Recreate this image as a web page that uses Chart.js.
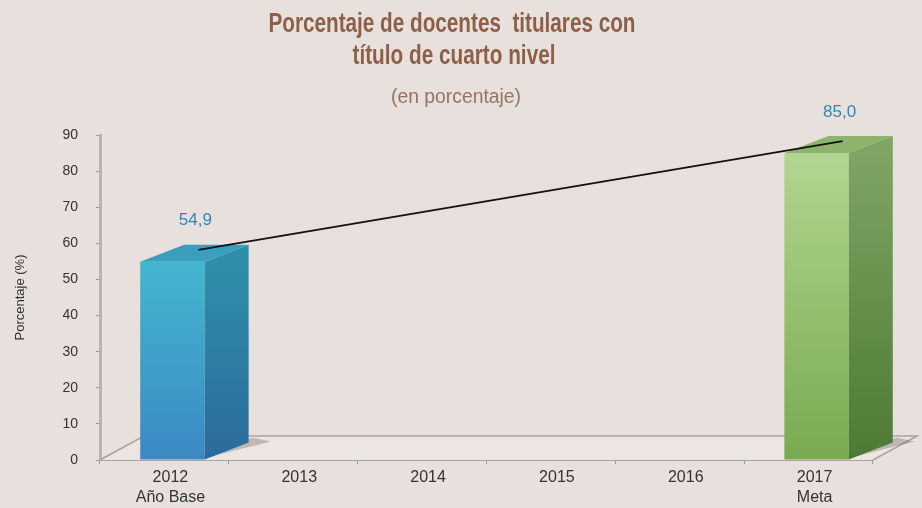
<!DOCTYPE html>
<html>
<head>
<meta charset="utf-8">
<script src="https://cdn.jsdelivr.net/npm/chart.js@4.4.1/dist/chart.umd.min.js"></script>
<style>
  html, body { margin: 0; padding: 0; background: #e7e0dc; }
  canvas { display: block; }
</style>
</head>
<body>
<canvas id="chart" width="922" height="508"></canvas>
<script>
const years = ['2012', '2013', '2014', '2015', '2016', '2017'];
const yearNotes = ['Año Base', '', '', '', '', 'Meta'];
const values = [54.9, null, null, null, null, 85.0];
const valueLabels = ['54,9', '', '', '', '', '85,0'];
const titleLines = ['Porcentaje de docentes  titulares con', 'título de cuarto nivel'];
const subtitle = '(en porcentaje)';
const yTitle = 'Porcentaje (%)';

const SANS = "'Liberation Sans', Arial, sans-serif";
const DEPTH_X = 44, DEPTH_Y = -17;   // bar depth
const FLOOR_X = 44, FLOOR_Y = -24;   // floor depth
const SHIFT = 8;                     // bars sit a bit right of the category centre

// face colours per bar: [front top, front bottom, side top, side bottom, top]
const palette = {
    '2012': ['#43b6cf', '#3b89c4', '#2f8faa', '#2b6a9c', '#3a9fbe'],
    '2017': ['#b2d691', '#79aa4f', '#7fa463', '#4c7a34', '#8db36c']
};

const xLabels = years.map((y, i) => yearNotes[i] ? [y, yearNotes[i]] : y);

function fillPoly(ctx, pts, style) {
    ctx.beginPath();
    ctx.moveTo(pts[0][0], pts[0][1]);
    for (let i = 1; i < pts.length; i++) ctx.lineTo(pts[i][0], pts[i][1]);
    ctx.closePath();
    ctx.fillStyle = style;
    ctx.fill();
}

// headings above the plot (squeezed to a condensed width)
const headings = {
    id: 'headings',
    afterDraw(chart) {
        const ctx = chart.ctx;
        ctx.save();
        ctx.textAlign = 'center';
        ctx.textBaseline = 'middle';
        ctx.fillStyle = '#8e5f47';
        ctx.font = 'bold 27px ' + SANS;
        ctx.fillText(titleLines[0], 452, 25, 367);
        ctx.fillText(titleLines[1], 454, 57, 203);
        ctx.fillStyle = '#957463';
        ctx.font = '20px ' + SANS;
        ctx.fillText(subtitle, 456, 97, 130);
        ctx.restore();
    }
};

// floor, 3D boxes, trend line and value labels
const box3d = {
    id: 'box3d',
    beforeDatasetsDraw(chart) {
        const ctx = chart.ctx, a = chart.chartArea;
        ctx.save();
        fillPoly(ctx, [[a.left, a.bottom], [a.right, a.bottom], [a.right + FLOOR_X, a.bottom + FLOOR_Y], [a.left + FLOOR_X, a.bottom + FLOOR_Y]], '#ece6e3');
        ctx.strokeStyle = '#a9a4a1';
        ctx.lineWidth = 1.5;
        ctx.beginPath();
        ctx.moveTo(a.left, a.bottom);
        ctx.lineTo(a.left + FLOOR_X, a.bottom + FLOOR_Y);
        ctx.lineTo(a.right + FLOOR_X, a.bottom + FLOOR_Y);
        ctx.lineTo(a.right, a.bottom);
        ctx.stroke();
        ctx.restore();
    },
    afterDatasetsDraw(chart) {
        const ctx = chart.ctx;
        const meta = chart.getDatasetMeta(0);
        const tops = [];
        ctx.save();
        meta.data.forEach((el, i) => {
            if (values[i] == null) return;
            const c = palette[years[i]];
            const l = el.x - el.width / 2 + SHIFT, r = el.x + el.width / 2 + SHIFT;
            const t = el.y, b = el.base;

            // shadow on the floor
            fillPoly(ctx, [[r - 6, b], [r + DEPTH_X + 22, b + FLOOR_Y + 6], [r + DEPTH_X + 4, b + FLOOR_Y + 2], [r, b - 4]], 'rgba(110,95,95,0.35)');

            let g = ctx.createLinearGradient(0, t, 0, b);
            g.addColorStop(0, c[0]); g.addColorStop(1, c[1]);
            fillPoly(ctx, [[l, t], [r, t], [r, b], [l, b]], g);

            g = ctx.createLinearGradient(0, t, 0, b);
            g.addColorStop(0, c[2]); g.addColorStop(1, c[3]);
            fillPoly(ctx, [[r, t], [r + DEPTH_X, t + DEPTH_Y], [r + DEPTH_X, b + DEPTH_Y], [r, b]], g);

            fillPoly(ctx, [[l, t], [l + DEPTH_X, t + DEPTH_Y], [r + DEPTH_X, t + DEPTH_Y], [r, t]], c[4]);

            const cx = (l + r) / 2;
            tops.push({ x: cx + 26, y: t + DEPTH_Y * 0.7, i, cx, t });
        });

        // line joining the base year with the goal
        ctx.strokeStyle = '#111';
        ctx.lineWidth = 1.6;
        ctx.beginPath();
        tops.forEach((p, k) => k ? ctx.lineTo(p.x, p.y) : ctx.moveTo(p.x, p.y));
        ctx.stroke();

        ctx.fillStyle = '#2e87ba';
        ctx.font = '17px ' + SANS;
        ctx.textAlign = 'center';
        ctx.textBaseline = 'middle';
        tops.forEach(p => {
            ctx.fillText(valueLabels[p.i], p.cx + 23, p.t - 41, 36);
        });
        ctx.restore();
    }
};

new Chart(document.getElementById('chart'), {
    type: 'bar',
    data: {
        labels: xLabels,
        datasets: [{
            data: values,
            backgroundColor: 'rgba(0,0,0,0)',
            barPercentage: 0.5,
            categoryPercentage: 1
        }]
    },
    options: {
        responsive: false,
        animation: false,
        layout: { padding: { top: 135, left: 0, right: 49, bottom: 0 } },
        plugins: { legend: { display: false }, tooltip: { enabled: false } },
        scales: {
            x: {
                afterFit: s => { s.height = 48; },
                grid: { offset: true, drawOnChartArea: false, tickLength: 4, tickColor: '#9d9895' },
                border: { color: '#aaa5a2', width: 2 },
                ticks: {
                    color: '#333',
                    font: { family: SANS, size: 16, lineHeight: 1.25 },
                    padding: 4,
                    labelOffset: 6,
                    maxRotation: 0
                }
            },
            y: {
                min: 0,
                max: 90,
                afterFit: s => { s.width = 100; },
                grid: { drawOnChartArea: false, tickLength: 4, tickColor: '#9d9895' },
                border: { color: '#b9b4b1', width: 3 },
                ticks: {
                    stepSize: 10,
                    color: '#333',
                    font: { family: SANS, size: 14 },
                    padding: 18
                },
                title: {
                    display: true,
                    text: yTitle,
                    color: '#333',
                    font: { family: SANS, size: 13 },
                    padding: { top: 13, bottom: 0 }
                }
            }
        }
    },
    plugins: [box3d, headings]
});
</script>
</body>
</html>
